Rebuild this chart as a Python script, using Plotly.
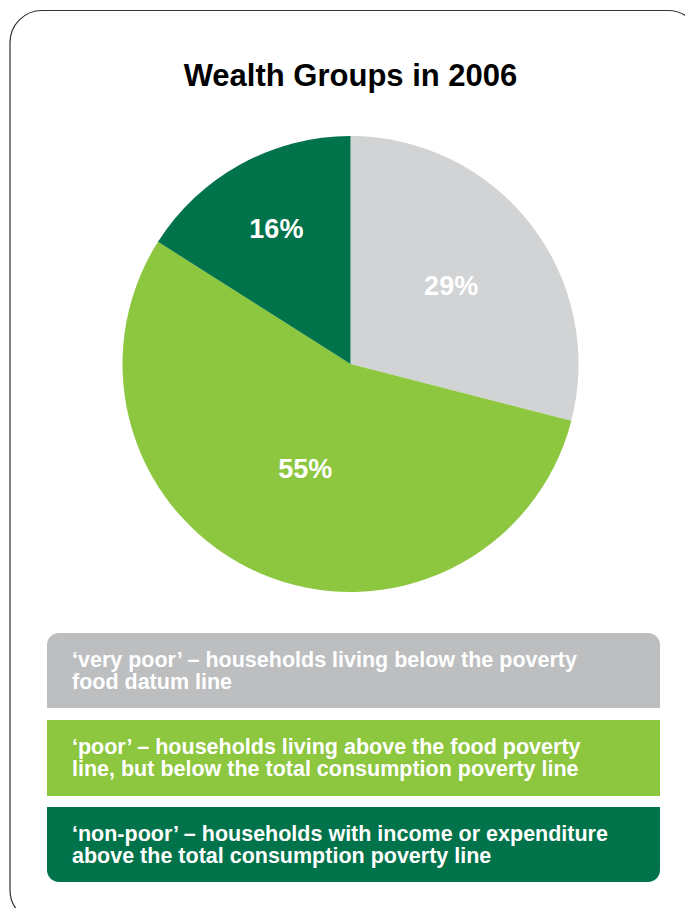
import plotly.graph_objects as go

# The page body has an 8px default margin; lay the figure out in page pixels
# and shift by that offset so elements land where the reference has them.
OFF = 8
W, H = 693 - OFF, 908 - OFF
FONT = "Liberation Sans, Arial, Helvetica, sans-serif"

# ---- data ----
title_text = "Wealth Groups in 2006"
groups = ["very poor", "poor", "non-poor"]
shares = [29, 55, 16]
slice_colors = ["#D1D3D4", "#8DC63F", "#00734A"]
box_colors = ["#BCBEC0", "#8DC63F", "#00734A"]
desc_line1 = [
    "‘very poor’ – households living below the poverty",
    "‘poor’ – households living above the food poverty",
    "‘non-poor’ – households with income or expenditure",
]
desc_line2 = [
    "food datum line",
    "line, but below the total consumption poverty line",
    "above the total consumption poverty line",
]


def px(x):
    return (x - OFF) / W


def py(y):
    return 1 - (y - OFF) / H


K = 0.5523


def rounded_path(x0, y0, x1, y1, rtl=0, rtr=0, rbr=0, rbl=0):
    """Rounded rectangle in page pixel coords (y down), returned in paper coords."""
    def P(x, y):
        return f"{px(x):.5f},{py(y):.5f}"
    d = f"M {P(x0 + rtl, y0)} L {P(x1 - rtr, y0)} "
    if rtr:
        d += f"C {P(x1 - rtr + K * rtr, y0)} {P(x1, y0 + rtr - K * rtr)} {P(x1, y0 + rtr)} "
    d += f"L {P(x1, y1 - rbr)} "
    if rbr:
        d += f"C {P(x1, y1 - rbr + K * rbr)} {P(x1 - rbr + K * rbr, y1)} {P(x1 - rbr, y1)} "
    d += f"L {P(x0 + rbl, y1)} "
    if rbl:
        d += f"C {P(x0 + rbl - K * rbl, y1)} {P(x0, y1 - rbl + K * rbl)} {P(x0, y1 - rbl)} "
    d += f"L {P(x0, y0 + rtl)} "
    if rtl:
        d += f"C {P(x0, y0 + rtl - K * rtl)} {P(x0 + rtl - K * rtl, y0)} {P(x0 + rtl, y0)} "
    d += "Z"
    return d


# pie geometry (page pixels)
cx, cy, R = 350.5, 364, 228

fig = go.Figure()
fig.add_trace(go.Pie(
    labels=groups,
    values=shares,
    sort=False,
    direction="clockwise",
    rotation=0,
    marker=dict(colors=slice_colors, line=dict(width=0)),
    texttemplate="%{value}%",
    textposition="inside",
    insidetextorientation="horizontal",
    textfont=dict(color="white", size=27, family=FONT, weight="bold"),
    hoverinfo="skip",
    showlegend=False,
    domain=dict(x=[px(cx - R), px(cx + R)], y=[py(cy + R), py(cy - R)]),
))

shapes = []
# outer frame
shapes.append(dict(type="path", xref="paper", yref="paper",
                   path=rounded_path(10, 10.5, 700, 922, 32, 32, 32, 32),
                   line=dict(color="#333333", width=1.2), fillcolor="rgba(0,0,0,0)", layer="below"))

box_x0, box_x1 = 47, 660
box_tops = [633, 720, 807]
box_bots = [708, 796, 882]
radii = [(12, 12, 0, 0), (0, 0, 0, 0), (0, 0, 12, 12)]
for i in range(3):
    rtl, rtr, rbr, rbl = radii[i]
    shapes.append(dict(type="path", xref="paper", yref="paper",
                       path=rounded_path(box_x0, box_tops[i], box_x1, box_bots[i], rtl, rtr, rbr, rbl),
                       line=dict(width=0), fillcolor=box_colors[i], layer="below"))

annotations = []
for i in range(3):
    b1 = box_tops[i] + 34
    b2 = b1 + 22
    for txt, base in ((desc_line1[i], b1), (desc_line2[i], b2)):
        annotations.append(dict(
            xref="paper", yref="paper", x=px(70), y=py(base - 7.4),
            xanchor="left", yanchor="middle", showarrow=False, text=txt,
            font=dict(family=FONT, size=21.5, color="white", weight="bold"),
        ))

fig.update_layout(
    width=W, height=H,
    margin=dict(l=0, r=0, t=0, b=0),
    paper_bgcolor="white",
    plot_bgcolor="white",
    title=dict(text=title_text, x=px(350.5), xanchor="center", xref="paper",
               y=py(86 - 0.346 * 31), yanchor="middle", yref="container",
               font=dict(family=FONT, size=31, color="black", weight="bold")),
    shapes=shapes,
    annotations=annotations,
    showlegend=False,
)

fig.write_html("out.html")
